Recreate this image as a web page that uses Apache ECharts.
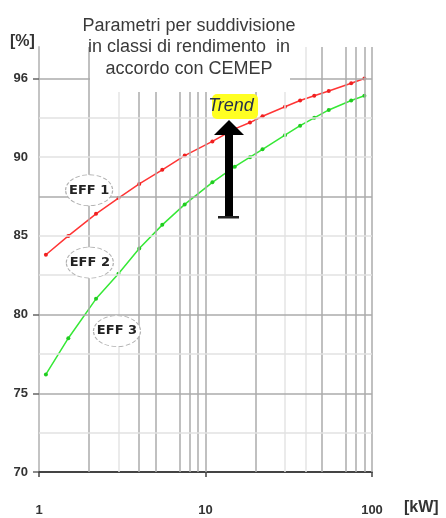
<!DOCTYPE html>
<html>
<head>
<meta charset="utf-8">
<script src="https://cdn.jsdelivr.net/npm/echarts@6/dist/echarts.min.js"></script>
<style>html,body{margin:0;padding:0;background:#fff}#c{width:446px;height:518px}</style>
</head>
<body>
<div id="c"></div>
<script>
// ---- data ----
const kW   = [1.1, 1.5, 2.2, 3, 4, 5.5, 7.5, 11, 15, 18.5, 22, 30, 37, 45, 55, 75, 90];
const eff1 = [83.8, 85.0, 86.4, 87.4, 88.3, 89.2, 90.1, 91.0, 91.8, 92.2, 92.6, 93.2, 93.6, 93.9, 94.2, 94.7, 95.0];
const eff2 = [76.2, 78.5, 81.0, 82.6, 84.2, 85.7, 87.0, 88.4, 89.4, 90.0, 90.5, 91.4, 92.0, 92.5, 93.0, 93.6, 93.9];
const yLabelValues = [70, 75, 80, 85, 90, 95];
const yLabelTexts  = ['70', '75', '80', '85', '90', '96'];
const yTickValues  = [70, 75, 80, 95];
const xLabelValues = [1, 10, 100];
const vGridStrong = [2, 4, 5, 7, 8, 9, 10, 20, 50, 70, 80, 90, 100];
const vGridLight  = [3, 30, 40];
const hGridStrong = [75, 80, 87.5, 95];
const hGridLight  = [72.5, 77.5, 82.5, 85, 90, 92.5];
const classLabels = [
  { name: 'EFF 1', kw: 2.0, eff: 87.9 },
  { name: 'EFF 2', kw: 2.02, eff: 83.3 },
  { name: 'EFF 3', kw: 2.94, eff: 78.95 }
];
const titleText = 'Parametri per suddivisione\nin classi di rendimento  in\naccordo con CEMEP';

const chart = echarts.init(document.getElementById('c'));
const ellipse = 'path://M0,15 A23,15 0 1,1 46,15 A23,15 0 1,1 0,15 Z';

const gridLines = []
  .concat(vGridStrong.map(v => ({ xAxis: v, lineStyle: { color: '#ababab', width: 1.5, type: 'solid' } })))
  .concat(vGridLight.map(v => ({ xAxis: v, lineStyle: { color: '#e4e4e4', width: 1.5, type: 'solid' } })))
  .concat(hGridStrong.map(v => ({ yAxis: v, lineStyle: { color: '#ababab', width: 1.5, type: 'solid' } })))
  .concat(hGridLight.map(v => ({ yAxis: v, lineStyle: { color: '#e2e2e2', width: 1.5, type: 'solid' } })));

chart.setOption({
  animation: false,
  backgroundColor: '#fff',
  title: {
    text: titleText,
    left: 184, top: 10, textAlign: 'center', z: 60,
    textStyle: { fontFamily: 'Liberation Sans', fontSize: 18, fontWeight: 'normal', color: '#3a3a3a', lineHeight: 21.5 }
  },
  grid: { left: 39, right: 74, top: 47, bottom: 46, containLabel: false },
  xAxis: {
    type: 'log', logBase: 10, min: 1, max: 100,
    axisLine: { show: true, lineStyle: { color: '#444', width: 2 } },
    axisTick: { show: true, length: 5, inside: false, lineStyle: { color: '#444', width: 1.5 }, customValues: xLabelValues },
    axisLabel: { customValues: xLabelValues, margin: 32, fontFamily: 'Liberation Sans', fontSize: 13, fontWeight: 'bold', color: '#333' },
    splitLine: { show: false }, minorTick: { show: false }
  },
  yAxis: {
    type: 'value', min: 70, max: 97,
    axisLine: { show: true, lineStyle: { color: '#c4c4c4', width: 2 } },
    axisTick: { show: true, length: 6, lineStyle: { color: '#666', width: 1.5 }, customValues: yTickValues },
    axisLabel: {
      customValues: yLabelValues, margin: 11,
      fontFamily: 'Liberation Sans', fontSize: 13, fontWeight: 'bold', color: '#333',
      formatter: v => { const i = yLabelValues.indexOf(v); return i >= 0 ? yLabelTexts[i] : ''; }
    },
    splitLine: { show: false }
  },
  series: [
    {
      type: 'line', data: [], z: 1, silent: true,
      markLine: { silent: true, symbol: ['none', 'none'], label: { show: false }, emphasis: { disabled: true }, data: gridLines }
    },
    {
      name: 'EFF1', type: 'line', z: 3,
      data: kW.map((k, i) => [k, eff1[i]]),
      lineStyle: { color: '#ff3535', width: 1.5 },
      itemStyle: { color: '#f02020' },
      symbol: 'circle', symbolSize: 4, showSymbol: true
    },
    {
      name: 'EFF2', type: 'line', z: 3,
      data: kW.map((k, i) => [k, eff2[i]]),
      lineStyle: { color: '#36e836', width: 1.5 },
      itemStyle: { color: '#20cc20' },
      symbol: 'circle', symbolSize: 4, showSymbol: true
    },
    {
      type: 'line', data: [], z: 5, silent: true,
      markPoint: {
        silent: true,
        symbol: ellipse, symbolSize: [47, 31],
        itemStyle: { color: '#fff', borderColor: '#b0b0b0', borderWidth: 1, borderType: 'dashed' },
        label: { show: true, position: 'inside', formatter: p => p.name, color: '#222', fontFamily: 'DejaVu Sans', fontSize: 13, fontWeight: 'bold' },
        data: classLabels.map(c => ({ name: c.name, coord: [c.kw, c.eff] }))
      }
    }
  ],
  graphic: [
    { type: 'rect', z: 50, shape: { x: 90, y: 40, width: 200, height: 52 }, style: { fill: '#fff' }, silent: true },
    { type: 'text', z: 51, style: { text: '[%]', x: 10, y: 34, fontFamily: 'Liberation Sans', fontSize: 16, fontWeight: 'bold', fill: '#333' } },
    { type: 'text', z: 51, style: { text: '[kW]', x: 404, y: 500, fontFamily: 'Liberation Sans', fontSize: 16, fontWeight: 'bold', fill: '#333' } },
    { type: 'rect', z: 52, shape: { x: 212, y: 94, width: 46, height: 25, r: 5 }, style: { fill: '#ffff22' } },
    { type: 'text', z: 53, style: { text: 'Trend', x: 231, y: 106, align: 'center', verticalAlign: 'middle', fontFamily: 'Liberation Sans', fontSize: 18, fontStyle: 'italic', fill: '#26304a' } },
    { type: 'rect', z: 52, shape: { x: 225, y: 133, width: 8, height: 84 }, style: { fill: '#000' } },
    { type: 'polygon', z: 52, shape: { points: [[214, 135], [244, 135], [229, 120]] }, style: { fill: '#000' } },
    { type: 'rect', z: 52, shape: { x: 218, y: 216, width: 21, height: 2.5 }, style: { fill: '#222' } }
  ]
});
</script>
</body>
</html>
